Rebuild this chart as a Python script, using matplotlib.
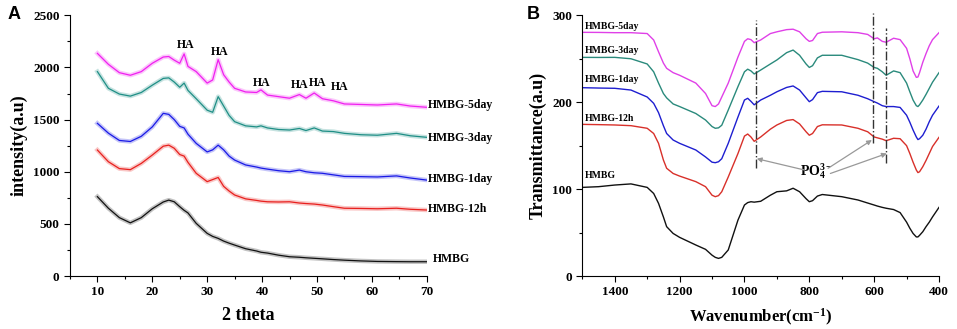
import numpy as np
import matplotlib
matplotlib.use("Agg")
import matplotlib.pyplot as plt
from matplotlib.ticker import MultipleLocator

# -----------------------------
# DATA
# -----------------------------
theta = [10, 12, 14, 16, 18, 20, 22, 23, 24, 25, 25.8, 26.5, 28, 30, 31, 32, 33, 34, 35,
         37, 39, 39.8, 41, 43, 45, 46.8, 48, 49.5, 51, 53, 55, 58, 61, 64.5, 67, 70]

xrd_5day = [2135, 2030, 1950, 1925, 1960, 2040, 2100, 2105, 2070, 2040, 2130, 2010, 1960, 1850,
            1880, 2075, 1930, 1860, 1800, 1765, 1760, 1785, 1735, 1720, 1705, 1740, 1705, 1755,
            1700, 1680, 1650, 1645, 1640, 1650, 1630, 1618]
xrd_3day = [1960, 1800, 1745, 1725, 1760, 1830, 1895, 1900, 1860, 1810, 1850, 1780, 1700, 1590,
            1570, 1720, 1630, 1540, 1480, 1440, 1430, 1440, 1420, 1405, 1400, 1415, 1395, 1420,
            1390, 1385, 1368, 1355, 1350, 1368, 1345, 1330]
xrd_1day = [1464, 1370, 1300, 1290, 1340, 1430, 1560, 1550, 1500, 1435, 1420, 1360, 1272, 1190,
            1210, 1255, 1210, 1150, 1112, 1065, 1045, 1035, 1025, 1010, 1000, 1016, 1000, 990,
            985, 970, 955, 953, 950, 960, 940, 920]
xrd_12h = [1208, 1096, 1030, 1020, 1080, 1160, 1245, 1255, 1225, 1165, 1150, 1090, 985, 905,
           925, 945, 860, 815, 777, 740, 725, 718, 712, 710, 712, 700, 695, 690, 681, 665, 650,
           648, 645, 650, 640, 633]
xrd_hmbg = [761, 650, 560, 510, 560, 645, 710, 728, 712, 665, 630, 605, 505, 409, 380, 361, 335,
            315, 297, 262, 240, 228, 220, 200, 185, 180, 175, 170, 165, 158, 152, 145, 140, 138,
            137, 137]

ha_theta = [26.0, 32.2, 39.9, 46.9, 50.2, 54.2]
ha_y = [2215, 2151, 1848, 1832, 1848, 1816]

wn = [1500, 1450, 1400, 1350, 1300, 1280, 1265, 1250, 1240, 1220, 1200, 1150, 1120, 1100, 1090,
      1080, 1070, 1050, 1020, 1000, 990, 980, 970, 950, 920, 900, 870, 850, 830, 810, 800, 790,
      775, 760, 700, 650, 620, 600, 590, 575, 563, 540, 520, 500, 490, 480, 470, 465, 460, 450,
      440, 430, 420, 400]

ir_5day = [280.4, 280.3, 280, 280, 279, 271.6, 258, 245, 239, 234, 231, 222, 210, 196, 195, 198,
           206, 222, 252, 270, 273, 272, 268.5, 271.6, 279, 281, 283.5, 284, 281, 273, 270, 271,
           279, 280.5, 281, 280, 278, 273, 274, 270, 269, 273.6, 272, 262, 250, 236, 228.6, 229,
           234, 246, 256, 265, 272, 280]
ir_3day = [251.6, 251.5, 251.6, 250, 244, 235, 222, 210, 205, 198, 195, 187, 179.5, 172, 170,
           170.5, 173.5, 191, 218, 235, 238, 236, 232.5, 237, 244, 248.6, 257, 260, 254, 244, 240,
           242, 251, 254, 254, 249, 245, 240, 239, 235, 231, 236, 234, 222, 212, 202.5, 196, 195,
           197, 202.5, 209, 216, 223, 234]
ir_1day = [216.7, 216.3, 216, 214, 206, 198.7, 188, 173, 164, 156.5, 152.7, 145, 137, 131, 130.4,
           131.5, 135, 152.7, 183, 202.5, 204.5, 201, 197, 202.5, 208, 212, 217, 218.7, 214, 205,
           200.6, 203, 211, 212.5, 212, 208, 204, 200.6, 199, 196, 195, 195, 194, 185, 177, 168,
           160, 157, 158, 162, 169, 177.6, 185, 195.6]
ir_12h = [174.5, 174.2, 173.8, 173, 170, 164, 152.7, 133.5, 124, 118, 115, 108.6, 102.8, 93, 91.3,
          92.5, 97, 114, 141, 161, 163.4, 160, 155, 160, 169, 173.8, 179, 180, 175, 166, 162, 164,
          172, 174, 173.8, 170, 166, 160, 159, 157.5, 155.7, 158.5, 158, 150, 141, 131, 122, 119,
          120, 125.8, 133, 141, 149, 159.6]
ir_hmbg = [102, 102.8, 104.7, 106, 102, 95, 83.6, 68, 56.8, 49, 44.5, 35.7, 30.7, 24, 21.5, 20.3,
           21.5, 30, 64.4, 81.7, 84.5, 85.5, 85, 86, 93, 97, 98, 101, 97, 89, 85.5, 86.7, 92, 93.8,
           91.3, 87.5, 84, 81.7, 80.5, 79, 78, 76.5, 73, 62, 55, 49, 45, 45, 46.8, 51, 56.8, 62,
           68, 79]

labels = ["HMBG-5day", "HMBG-3day", "HMBG-1day", "HMBG-12h", "HMBG"]
colors_a = ["#f020f0", "#1f8f86", "#1a1ae6", "#e8201e", "#111111"]
colors_b = ["#e040e8", "#2a8a7c", "#1e1ed0", "#d8302a", "#111111"]

# label anchor values
xrd_label_y = [1640, 1323, 930, 642, 163]
ir_label_y = [287, 260, 225.6, 181.5, 116]

# PO4 band marker lines: (wavenumber, y_top, y_bottom)
po4_lines = [(965, 294.6, 124), (605, 303, 152.7), (563, 285, 129.7)]
po4_targets = [(962, 135), (607, 156.5), (561, 141)]

SERIF = "Liberation Serif"
plt.rcParams["font.family"] = SERIF
plt.rcParams["font.weight"] = "bold"
plt.rcParams["mathtext.fontset"] = "custom"
plt.rcParams["mathtext.rm"] = "Liberation Serif:bold"
plt.rcParams["mathtext.bf"] = "Liberation Serif:bold"
plt.rcParams["mathtext.it"] = "Liberation Serif:bold:italic"
plt.rcParams["mathtext.default"] = "rm"


def style_axis(ax):
    for s in ("top", "right"):
        ax.spines[s].set_visible(False)
    ax.tick_params(which="major", direction="out", length=4, width=0.8, labelsize=9.5)
    ax.tick_params(which="minor", direction="out", length=2, width=0.8)
    for lab in ax.get_xticklabels() + ax.get_yticklabels():
        lab.set_fontweight("bold")


fig = plt.figure(figsize=(9.57, 3.29), dpi=100)

# -----------------------------
# PANEL A: XRD
# -----------------------------
ax1 = fig.add_axes([0.0731, 0.161, 0.3728, 0.7925])
xrd_all = [xrd_5day, xrd_3day, xrd_1day, xrd_12h, xrd_hmbg]
for ys, c in zip(xrd_all, colors_a):
    # wide faint band stands in for the noisy trace
    ax1.plot(theta, ys, color=c, lw=3.2, alpha=0.25, solid_joinstyle="round")
    ax1.plot(theta, ys, color=c, lw=0.9)
ax1.set_xlim(5, 70)
ax1.set_ylim(0, 2500)
ax1.xaxis.set_major_locator(MultipleLocator(10))
ax1.xaxis.set_minor_locator(MultipleLocator(5))
ax1.yaxis.set_major_locator(MultipleLocator(500))
ax1.yaxis.set_minor_locator(MultipleLocator(250))
style_axis(ax1)
ax1.set_xticks([10, 20, 30, 40, 50, 60, 70])
ax1.set_xlabel("2 theta", fontsize=13, fontweight="bold", labelpad=6)
ax1.set_ylabel("intensity(a.u)", fontsize=13, fontweight="bold", labelpad=4)

for lab, yv in zip(labels, xrd_label_y):
    xl = 71.2 if lab == "HMBG" else 70.2
    ax1.text(xl, yv, lab, fontsize=8.5, fontweight="bold", va="center", ha="left",
             clip_on=False)
for tx, ty in zip(ha_theta, ha_y):
    ax1.text(tx, ty, "HA", fontsize=8.5, fontweight="bold", ha="center", va="center")

fig.text(0.008, 0.955, "A", fontsize=13, fontweight="bold", family="Liberation Sans",
         va="center")

# -----------------------------
# PANEL B: FTIR
# -----------------------------
ax2 = fig.add_axes([0.6085, 0.161, 0.3727, 0.7925])
ir_all = [ir_5day, ir_3day, ir_1day, ir_12h, ir_hmbg]
for ys, c in zip(ir_all, colors_b):
    ax2.plot(wn, ys, color=c, lw=1.0)
ax2.set_xlim(1500, 400)
ax2.set_ylim(0, 300)
ax2.xaxis.set_major_locator(MultipleLocator(200))
ax2.xaxis.set_minor_locator(MultipleLocator(100))
ax2.yaxis.set_major_locator(MultipleLocator(100))
ax2.yaxis.set_minor_locator(MultipleLocator(50))
style_axis(ax2)
ax2.set_xlabel("Wavenumber(cm$^{-1}$)", fontsize=12, fontweight="bold", labelpad=6)
ax2.set_ylabel("Transmittance(a.u)", fontsize=13, fontweight="bold", labelpad=4)

for lab, yv in zip(labels, ir_label_y):
    ax2.text(1492, yv, lab, fontsize=7, fontweight="bold", va="center", ha="left")

for x0, yt, yb in po4_lines:
    ax2.plot([x0, x0], [yb, yt], color="#333333", lw=1.0, ls="-.", clip_on=False)

ax2.text(778, 121, "PO$_4^{3-}$", fontsize=10, fontweight="bold", ha="center", va="center")
starts = [(815, 122), (742, 124), (735, 118)]
for (sx, sy), (tx, ty) in zip(starts, po4_targets):
    ax2.annotate("", xy=(tx, ty), xytext=(sx, sy),
                 arrowprops=dict(arrowstyle="-|>", color="#999999", lw=0.9,
                                 mutation_scale=7, shrinkA=0, shrinkB=0))

fig.text(0.55, 0.955, "B", fontsize=13, fontweight="bold", family="Liberation Sans",
         va="center")

fig.savefig("out.png", dpi=100)
